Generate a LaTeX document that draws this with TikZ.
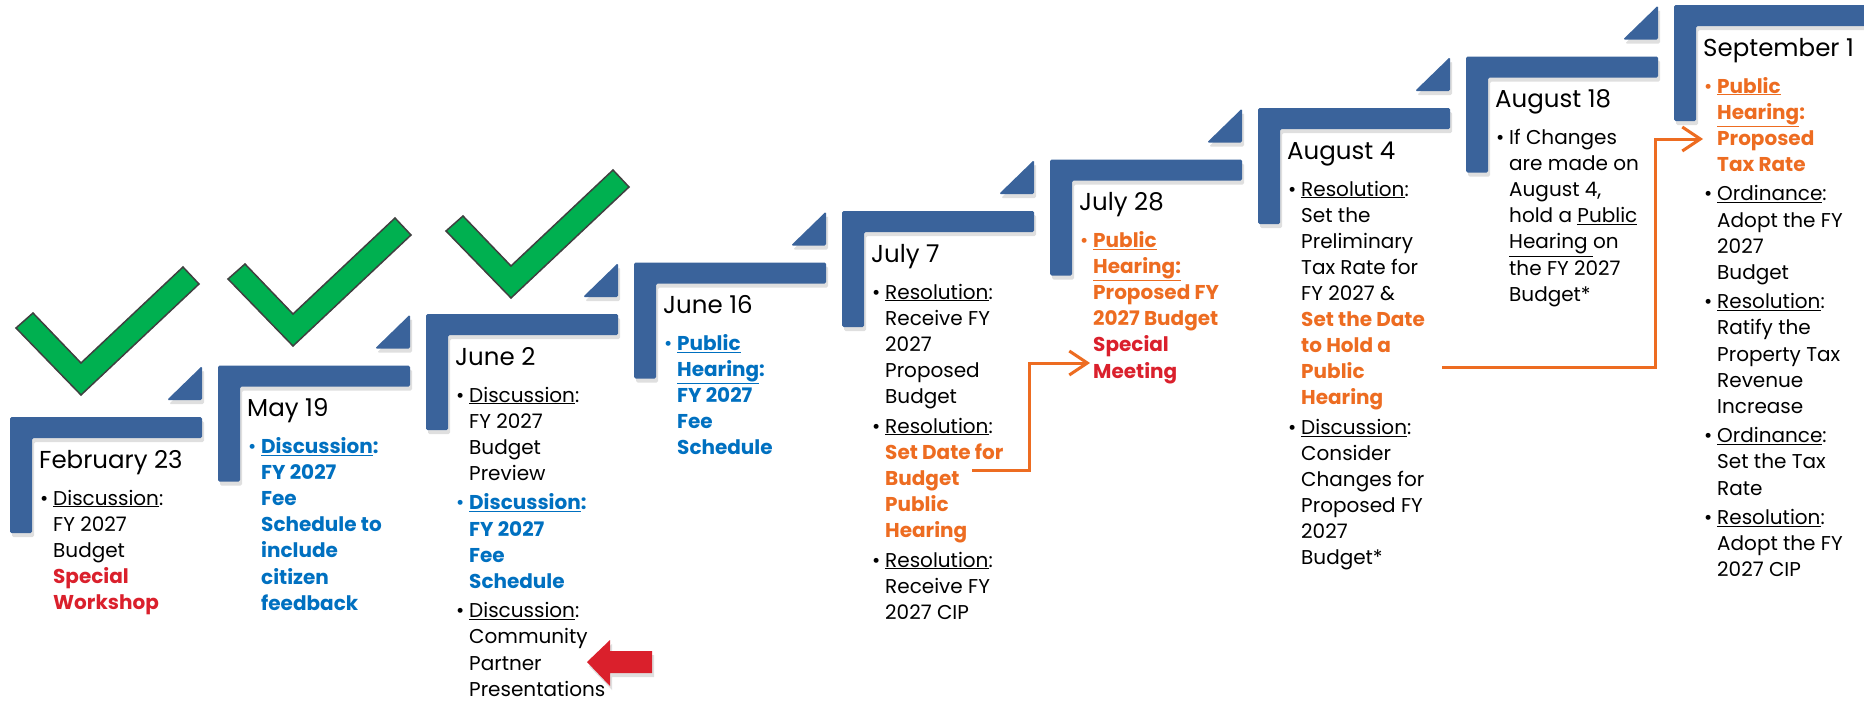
\documentclass[tikz,border=0pt]{standalone}
\usepackage{fontspec}
\setmainfont{Poppins}
\usetikzlibrary{arrows.meta,shadows}

\definecolor{stepblue}{RGB}{58,99,155}
\definecolor{checkgreen}{RGB}{0,176,80}
\definecolor{fyblue}{RGB}{0,112,192}
\definecolor{fyorange}{RGB}{237,108,33}
\definecolor{fyred}{RGB}{218,32,44}

\newcommand{\bl}[1]{\textcolor{fyblue}{\bfseries #1}}
\newcommand{\og}[1]{\textcolor{fyorange}{\bfseries #1}}
\newcommand{\rd}[1]{\textcolor{fyred}{\bfseries #1}}
\newcommand{\bul}[1][black]{\makebox[13pt][l]{\textcolor{#1}{\textbullet}}}

\tikzset{
	stepbar/.style={fill=stepblue,rounded corners=1.5pt,drop shadow={opacity=0.25,shadow xshift=2pt,shadow yshift=-4pt}},
	check/.style={fill=checkgreen,draw=black!75,line width=1.5pt},
	redarrow/.style={fill=fyred,drop shadow={opacity=0.25,shadow xshift=2pt,shadow yshift=-4pt}},
	date/.style={anchor=base west,inner sep=0pt,font=\fontsize{24.5}{29}\selectfont},
	items/.style={anchor=base west,inner sep=0pt,font=\fontsize{20}{26.1}\selectfont},
	link/.style={draw=fyorange,line width=3pt,-{Straight Barb[length=18pt,width=24pt]}}
}

\begin{document}
\begin{tikzpicture}[x=1pt,y=-1pt]
	\useasboundingbox (0,0) rectangle (1864,707);

	% steps
	\foreach \i in {0,...,8} {
		\pgfmathsetmacro\sx{10+208*\i}
		\pgfmathsetmacro\sy{417-51.5*\i}
		\path[stepbar] (\sx,\sy) -- ++(192,0) -- ++(0,21) -- ++(-170,0) -- ++(0,95) -- ++(-22,0) -- cycle;
		\ifnum\i<8
			\path[stepbar] (\sx+157,\sy-17) -- ++(35,0) -- ++(0,-34) -- cycle;
		\fi
	}

	% checks
	\foreach \bx/\by in {81/395,293/346,511/298}
		\draw[check] (\bx,\by) -- ++(-65,-67) -- ++(17,-15) -- ++(48,50) -- ++(102,-96) -- ++(16,17) -- cycle;

	\path[redarrow] (587,662) -- (610,640) -- (610,651) -- (652,651) -- (652,673) -- (610,673) -- (610,686) -- cycle;

	\node[date] (feb23) at (39,468) {February 23};
	\node[items] (feb23-items) at (40,505) {\begin{tabular}[t]{@{}l@{}l@{}}
		\bul & \underline{Discussion}:\\
		& FY 2027\\
		& Budget\\
		& \rd{Special}\\
		& \rd{Workshop}
	\end{tabular}};

	\node[date] (may19) at (247,416.5) {May 19};
	\node[items] (may19-items) at (248,453.5) {\begin{tabular}[t]{@{}l@{}l@{}}
		\bul[fyblue] & \bl{\underline{Discussion}:}\\
		& \bl{FY 2027}\\
		& \bl{Fee}\\
		& \bl{Schedule to}\\
		& \bl{include}\\
		& \bl{citizen}\\
		& \bl{feedback}
	\end{tabular}};

	\node[date] (jun2) at (455,365) {June 2};
	\node[items] (jun2-items) at (456,402) {\begin{tabular}[t]{@{}l@{}l@{}}
		\bul & \underline{Discussion}:\\
		& FY 2027\\
		& Budget\\
		& Preview\\[3.5pt]
		\bul[fyblue] & \bl{\underline{Discussion}:}\\
		& \bl{FY 2027}\\
		& \bl{Fee}\\
		& \bl{Schedule}\\[3.5pt]
		\bul & \underline{Discussion}:\\
		& Community\\
		& Partner\\
		& Presentations
	\end{tabular}};

	\node[date] (jun16) at (663,313.5) {June 16};
	\node[items] (jun16-items) at (664,350.5) {\begin{tabular}[t]{@{}l@{}l@{}}
		\bul[fyblue] & \bl{\underline{Public}}\\
		& \bl{\underline{Hearing}:}\\
		& \bl{FY 2027}\\
		& \bl{Fee}\\
		& \bl{Schedule}
	\end{tabular}};

	\node[date] (jul7) at (871,262) {July 7};
	\node[items] (jul7-items) at (872,299) {\begin{tabular}[t]{@{}l@{}l@{}}
		\bul & \underline{Resolution}:\\
		& Receive FY\\
		& 2027\\
		& Proposed\\
		& Budget\\[3.5pt]
		\bul & \underline{Resolution}:\\
		& \og{Set Date for}\\
		& \og{Budget}\\
		& \og{Public}\\
		& \og{Hearing}\\[3.5pt]
		\bul & \underline{Resolution}:\\
		& Receive FY\\
		& 2027 CIP
	\end{tabular}};

	\node[date] (jul28) at (1079,210.5) {July 28};
	\node[items] (jul28-items) at (1080,247.5) {\begin{tabular}[t]{@{}l@{}l@{}}
		\bul[fyorange] & \og{\underline{Public}}\\
		& \og{\underline{Hearing:}}\\
		& \og{Proposed FY}\\
		& \og{2027 Budget}\\
		& \rd{Special}\\
		& \rd{Meeting}
	\end{tabular}};

	\node[date] (aug4) at (1287,159) {August 4};
	\node[items] (aug4-items) at (1288,196) {\begin{tabular}[t]{@{}l@{}l@{}}
		\bul & \underline{Resolution}:\\
		& Set the\\
		& Preliminary\\
		& Tax Rate for\\
		& FY 2027 \&\\
		& \og{Set the Date}\\
		& \og{to Hold a}\\
		& \og{Public}\\
		& \og{Hearing}\\[3.5pt]
		\bul & \underline{Discussion}:\\
		& Consider\\
		& Changes for\\
		& Proposed FY\\
		& 2027\\
		& Budget*
	\end{tabular}};

	\node[date] (aug18) at (1495,107.5) {August 18};
	\node[items] (aug18-items) at (1496,144.5) {\begin{tabular}[t]{@{}l@{}l@{}}
		\bul & If Changes\\
		& are made on\\
		& August 4,\\
		& hold a \underline{Public}\\
		& \underline{Hearing\ }on\\
		& the FY 2027\\
		& Budget*
	\end{tabular}};

	\node[date] (sep1) at (1703,56) {September 1};
	\node[items] (sep1-items) at (1704,93) {\begin{tabular}[t]{@{}l@{}l@{}}
		\bul[fyorange] & \og{\underline{Public}}\\
		& \og{\underline{Hearing}:}\\
		& \og{Proposed}\\
		& \og{Tax Rate}\\[3.5pt]
		\bul & \underline{Ordinance}:\\
		& Adopt the FY\\
		& 2027\\
		& Budget\\[3.5pt]
		\bul & \underline{Resolution}:\\
		& Ratify the\\
		& Property Tax\\
		& Revenue\\
		& Increase\\[3.5pt]
		\bul & \underline{Ordinance}:\\
		& Set the Tax\\
		& Rate\\[3.5pt]
		\bul & \underline{Resolution}:\\
		& Adopt the FY\\
		& 2027 CIP
	\end{tabular}};

	\coordinate (setdate-out) at (972,470);
	\coordinate (meeting-in) at (1090,363);
	\coordinate (hearing-out) at (1442,367);
	\coordinate (taxrate-in) at (1703,139);

	\draw[link] (setdate-out) -- ++(57,0) |- (meeting-in);
	\draw[link] (hearing-out) -- ++(213,0) |- (taxrate-in);
\end{tikzpicture}
\end{document}
